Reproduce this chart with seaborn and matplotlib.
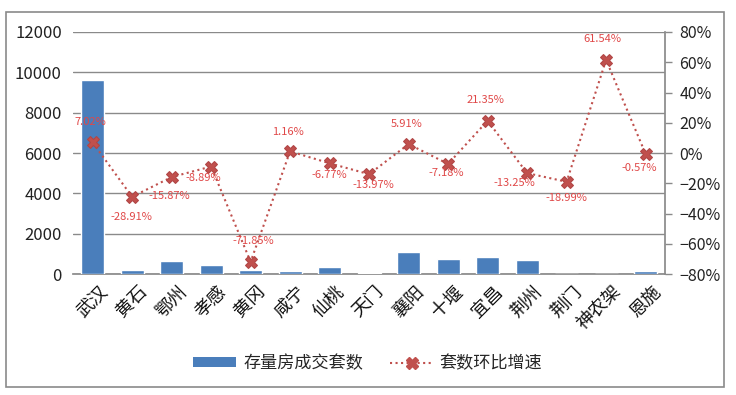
import matplotlib
matplotlib.use("Agg")
import matplotlib.pyplot as plt
import matplotlib.transforms as mtransforms
import seaborn as sns
import numpy as np
import pandas as pd
from matplotlib.patches import Rectangle
from matplotlib.lines import Line2D
from matplotlib.patches import Patch

cities = ["武汉", "黄石", "鄂州", "孝感", "黄冈", "咸宁", "仙桃", "天门",
          "襄阳", "十堰", "宜昌", "荆州", "荆门", "神农架", "恩施"]
volume = [9620, 200, 650, 450, 200, 150, 350, 50, 1100, 750, 850, 700, 0, 0, 150]
growth = [7.02, -28.91, -15.87, -8.89, -71.85, 1.16, -6.77, -13.97,
          5.91, -7.18, 21.35, -13.25, -18.99, 61.54, -0.57]
left_ticks = [0, 2000, 4000, 6000, 8000, 10000, 12000]
right_ticks = [-80, -60, -40, -20, 0, 20, 40, 60, 80]
bar_label = "存量房成交套数"
line_label = "套数环比增速"
# label offsets in pixels (dx, dy)
offsets = [(-2, 20), (-1, -20), (-2, -19), (-8, -11), (3, 21), (-2, 19), (0, -12),
           (4, -11), (-2, 20), (-2, -9), (-2, 21), (-13, -10), (0, -16), (-4, 21), (-6, -14)]

sns.set_theme(style="white")
plt.rcParams['font.family'] = ['Noto Sans CJK SC', 'DejaVu Sans']
plt.rcParams['axes.unicode_minus'] = False

fig = plt.figure(figsize=(7.36, 3.95), dpi=100)
ax = fig.add_axes([0.099, 0.306, 0.805, 0.613])

df = pd.DataFrame({"city": cities, "volume": volume})
sns.barplot(data=df, x="city", y="volume", color="#4A7EBB", saturation=1,
            width=0.58, ax=ax, zorder=3)
ax.set_ylim(0, 12000)
ax.set_xlim(-0.5, len(cities) - 0.5)
ax.set_yticks(left_ticks)
ax.set_yticklabels([str(t) for t in left_ticks], fontsize=12, color="#222222")
ax.yaxis.grid(True, color="#8a8a8a", linewidth=1, zorder=0)
ax.set_axisbelow(True)
ax.set_xlabel("")
ax.set_ylabel("")
for s in ["left", "top", "right"]:
    ax.spines[s].set_visible(False)
ax.spines["bottom"].set_color("#8a8a8a")
ax.tick_params(axis="y", length=0, pad=8)
ax.tick_params(axis="x", length=0, pad=6)
ax.set_xticks(range(len(cities)))
ax.set_xticklabels(cities, rotation=45, ha="right", rotation_mode="anchor",
                   fontsize=13, color="#111111")
shift = mtransforms.ScaledTranslation(6 / 100, 0, fig.dpi_scale_trans)
for lbl in ax.get_xticklabels():
    lbl.set_transform(lbl.get_transform() + shift)

ax2 = ax.twinx()
xs = np.arange(len(cities))
sns.lineplot(x=xs, y=growth, ax=ax2, color="#C0504D", linestyle=":", linewidth=1.5,
             marker="X", markersize=9, markeredgecolor="#B04545",
             markerfacecolor="#C0504D", zorder=5)
ax2.set_ylim(-80, 80)
ax2.set_xlim(-0.5, len(cities) - 0.5)
ax2.set_yticks(right_ticks)
ax2.set_yticklabels([f"{t}%".replace("-", "−") for t in right_ticks], fontsize=11.5, color="#222222")
ax2.tick_params(axis="y", direction="out", length=5, width=1, color="#8a8a8a", pad=5)
for s in ["left", "top", "bottom"]:
    ax2.spines[s].set_visible(False)
ax2.spines["right"].set_color("#8a8a8a")
ax2.grid(False)

for i, (v, (dx, dy)) in enumerate(zip(growth, offsets)):
    ax2.annotate(f"{v:.2f}%", (i, v), xytext=(dx * 0.72, dy * 0.72),
                 textcoords="offset points", ha="center", va="center",
                 fontsize=8, color="#E04848", zorder=6)

handles = [Patch(facecolor="#4A7EBB", edgecolor="none"),
           Line2D([0], [0], color="#C0504D", linestyle=":", linewidth=1.5,
                  marker="X", markersize=8, markerfacecolor="#C0504D")]
fig.legend(handles, [bar_label, line_label], loc="center", bbox_to_anchor=(0.5, 0.081),
           ncol=2, frameon=False, fontsize=12.3, handlelength=2.5, handleheight=0.5,
           columnspacing=1.6, handletextpad=0.4)

fig.patches.append(Rectangle((6 / 736, 1 - 387 / 395), (724 - 6) / 736, (387 - 12) / 395,
                             transform=fig.transFigure, fill=False,
                             edgecolor="#8a8a8a", linewidth=1.2))

fig.savefig("out.png", dpi=100)
